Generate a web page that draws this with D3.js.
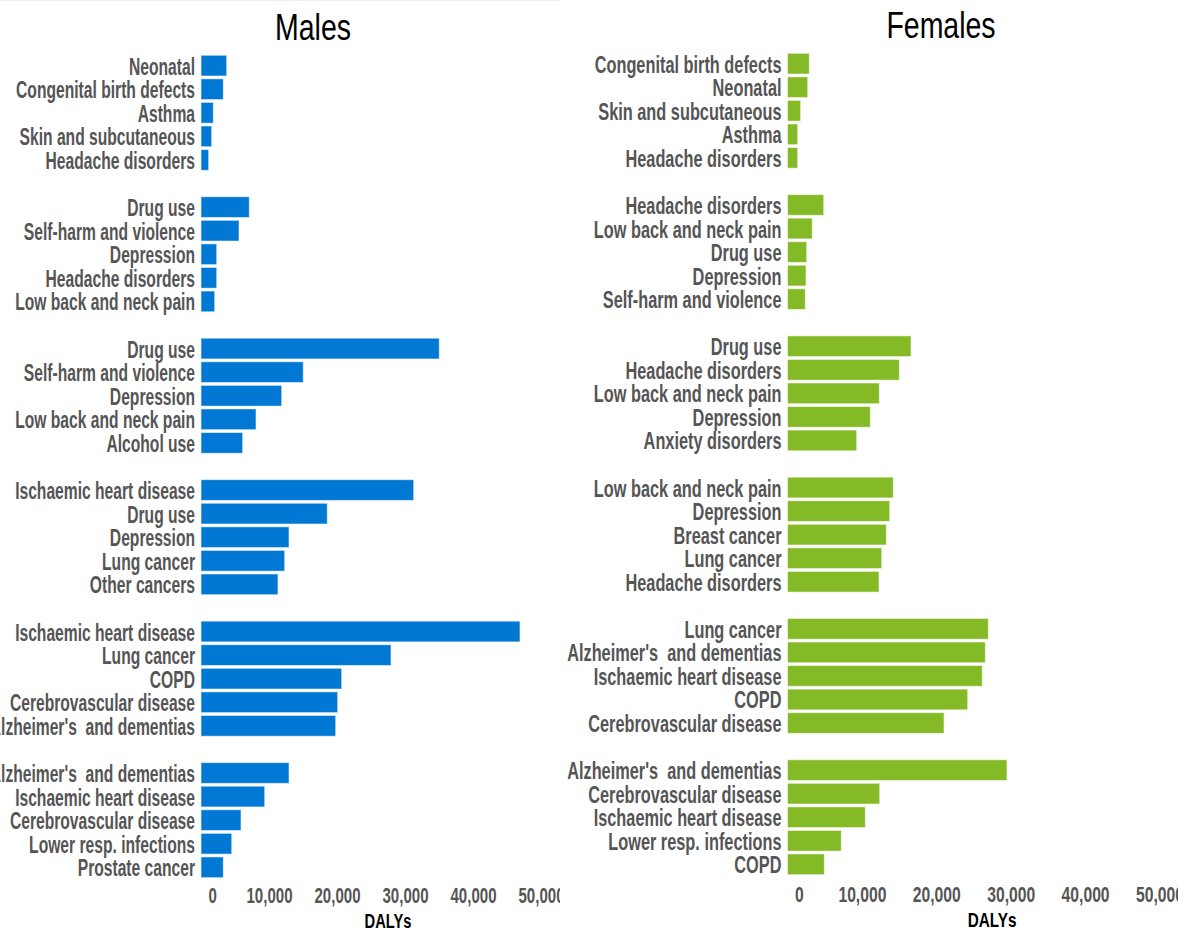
<!DOCTYPE html>
<html>
<head>
<meta charset="utf-8">
<script src="https://cdn.jsdelivr.net/npm/d3@7"></script>
<style>
  body { margin: 0; background: #fff; }
  text { font-family: "Liberation Sans", Arial, Helvetica, sans-serif; white-space: pre; }
</style>
</head>
<body>
<svg id="chart" width="1178" height="929"></svg>
<script>
"use strict";

// causes per age group (top to bottom), males
var maleCauses = [
  ["Neonatal", "Congenital birth defects", "Asthma", "Skin and subcutaneous", "Headache disorders"],
  ["Drug use", "Self-harm and violence", "Depression", "Headache disorders", "Low back and neck pain"],
  ["Drug use", "Self-harm and violence", "Depression", "Low back and neck pain", "Alcohol use"],
  ["Ischaemic heart disease", "Drug use", "Depression", "Lung cancer", "Other cancers"],
  ["Ischaemic heart disease", "Lung cancer", "COPD", "Cerebrovascular disease", "Alzheimer's  and dementias"],
  ["Alzheimer's  and dementias", "Ischaemic heart disease", "Cerebrovascular disease", "Lower resp. infections", "Prostate cancer"]
]
var maleDalys = [
  [3780, 3280, 1810, 1570, 1130],
  [7100, 5590, 2310, 2310, 2020],
  [35040, 15040, 11870, 8090, 6130],
  [31280, 18570, 12940, 12310, 11320],
  [46910, 27940, 20690, 20100, 19810],
  [12940, 9370, 5880, 4520, 3280]
]

// females
var femaleCauses = [
  ["Congenital birth defects", "Neonatal", "Skin and subcutaneous", "Asthma", "Headache disorders"],
  ["Headache disorders", "Low back and neck pain", "Drug use", "Depression", "Self-harm and violence"],
  ["Drug use", "Headache disorders", "Low back and neck pain", "Depression", "Anxiety disorders"],
  ["Low back and neck pain", "Depression", "Breast cancer", "Lung cancer", "Headache disorders"],
  ["Lung cancer", "Alzheimer's  and dementias", "Ischaemic heart disease", "COPD", "Cerebrovascular disease"],
  ["Alzheimer's  and dementias", "Cerebrovascular disease", "Ischaemic heart disease", "Lower resp. infections", "COPD"]
]
var femaleDalys = [
  [2930, 2720, 1770, 1370, 1370],
  [4870, 3330, 2580, 2490, 2390],
  [16600, 15030, 12340, 11130, 9300],
  [14220, 13740, 13280, 12660, 12300],
  [26990, 26590, 26180, 24220, 21040],
  [29500, 12390, 10460, 7230, 4950]
]

var xTicks = [0, 10000, 20000, 30000, 40000, 50000]
var xMax = 55000

var svg = d3.select("#chart")

// faint line at top of the left picture
svg.append("line")
  .attr("x1", 0).attr("x2", 560).attr("y1", 0.5).attr("y2", 0.5)
  .attr("stroke", "#eeeeee")

function squeezedText(g, x, y, str, size, anchor, weight, fill, sx) {
  return g.append("text")
    .attr("transform", "translate(" + x + "," + y + ") scale(" + sx + ",1)")
    .attr("text-anchor", anchor)
    .attr("xml:space", "preserve")
    .style("font-size", size + "px")
    .style("font-weight", weight)
    .style("fill", fill)
    .text(str)
}

/**
 * Dessine un panneau (un sexe).
 */
function panel(p) {
  var g = svg.append("g")
  if (p.clip) {
    svg.append("clipPath").attr("id", p.id + "-clip")
      .append("rect").attr("x", p.clip[0]).attr("y", 0)
      .attr("width", p.clip[1] - p.clip[0]).attr("height", 929)
    g.attr("clip-path", "url(#" + p.id + "-clip)")
  }

  var x = d3.scaleLinear().domain([0, xMax]).range(p.xRange)
  var y = d3.scaleBand()
    .domain(d3.range(36))
    .range([p.top, p.top + 36 * p.pitch])
    .paddingInner(0.12)

  var rows = []
  p.causes.forEach(function(grp, gi) {
    grp.forEach(function(name, i) {
      rows.push({ name: name, value: p.values[gi][i], slot: gi * 6 + i })
    })
  })

  g.selectAll("rect.bar")
    .data(rows)
    .enter()
    .append("rect")
      .attr("class", "bar")
      .attr("x", x(0))
      .attr("y", function(d) { return y(d.slot) })
      .attr("width", function(d) { return x(d.value) - x(0) })
      .attr("height", y.bandwidth())
      .style("fill", p.color)
      .style("stroke", "#ffffff")
      .style("stroke-opacity", 0.55)
      .style("stroke-width", 1)

  rows.forEach(function(d) {
    var cy = y(d.slot) + y.bandwidth() / 2
    squeezedText(g, x(0) - 6, cy + 9, d.name, 23, "end", "bold", "#555555", p.sx)
  })

  // axe des x
  var tsx = p.sx + 0.02
  var axis = g.append("g")
    .attr("transform", "translate(0," + p.axisY + ")")
    .call(d3.axisBottom(x).tickValues(xTicks).tickFormat(d3.format(",")).tickSize(0))
  axis.select(".domain").remove()
  axis.selectAll(".tick text")
    .attr("y", 0).attr("dy", 0)
    .attr("font-family", null).attr("font-size", null)
    .style("font-size", "21.5px")
    .style("font-weight", "bold")
    .style("fill", "#555555")
    .attr("transform", function(d, i) {
      return i === 0 ? "translate(7,0) scale(" + tsx + ",1)" : "scale(" + tsx + ",1)"
    })
    .attr("text-anchor", function(d, i) { return i === 0 ? "start" : "middle" })

  squeezedText(g, (p.xRange[0] + p.xRange[1]) / 2, p.axisY + 25, "DALYs", 21, "middle", "bold", "#000000", tsx)

  squeezedText(svg, p.titleX, p.titleY, p.title, 37, "middle", "normal", "#000000", 0.77)
}

panel({
  id: "males", title: "Males", titleX: 313, titleY: 40, sx: 0.68,
  causes: maleCauses, values: maleDalys, color: "#0078d4",
  xRange: [201, 575], top: 55.25, pitch: 23.5, axisY: 903, clip: [0, 560]
})

panel({
  id: "females", title: "Females", titleX: 941, titleY: 37.5, sx: 0.71,
  causes: femaleCauses, values: femaleDalys, color: "#84ba26",
  xRange: [787.5, 1196.7], top: 53.3, pitch: 23.47, axisY: 902, clip: null
})
</script>
</body>
</html>
